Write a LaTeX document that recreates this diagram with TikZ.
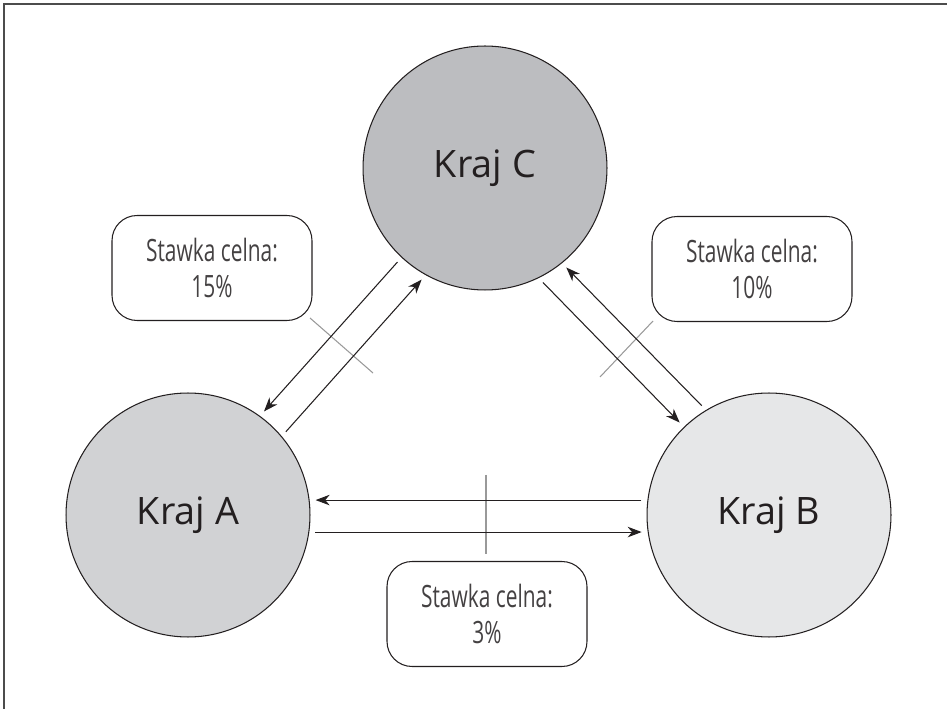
\documentclass[tikz,border=0pt]{standalone}
\usepackage{fontspec}
\setmainfont{Open Sans}
\newfontfamily\narrowfont[FakeStretch=0.68]{Open Sans}
\usetikzlibrary{arrows.meta,calc,positioning}
\definecolor{fillA}{HTML}{D1D2D4}
\definecolor{fillB}{HTML}{E6E7E8}
\definecolor{fillC}{HTML}{BCBDC0}
\definecolor{ink}{HTML}{231F20}
\begin{document}
\begin{tikzpicture}[x=0.02cm,y=-0.02cm,>={Stealth[length=8pt,width=6pt,inset=2.5pt]},
  country/.style={circle,draw=ink,line width=0.6pt,minimum size=4.88cm,inner sep=0pt,
    font=\fontsize{21.5}{24}\selectfont,text=ink},
  ratebox/.style={draw=ink,line width=0.6pt,rounded corners=0.5cm,minimum width=4cm,
    minimum height=2.1cm,align=center,font=\narrowfont\fontsize{17.5}{20}\selectfont,text=ink!85},
  trade/.style={->,line width=0.6pt,draw=ink,shorten <=0.12cm,shorten >=0.12cm},
  tick/.style={line width=0.6pt,draw=black!40}]
\useasboundingbox (0,0) rectangle (947,709);
% frame
\draw[line width=0.8pt,black!70] (4,709) -- (4,4) -- (947,4);
% countries
\node[country,fill=fillC] (C) at (485,168) {Kraj C};
\node[country,fill=fillA] (A) at (188,515) {Kraj A};
\node[country,fill=fillB] (B) at (769,515) {Kraj B};
% tariff rates
\node[ratebox] (rAC) at (212,268) {Stawka celna:\\15\%};
\node[ratebox] (rCB) at (752,269) {Stawka celna:\\10\%};
\node[ratebox] (rAB) at (487,614) {Stawka celna:\\3\%};
% borders
\draw[tick] (310,318) -- (373,373);
\draw[tick] (653,321) -- (600,377);
\draw[tick] (486,475) -- (486,554);
% trade flows
\draw[trade] (C.227) -- (A.54);
\draw[trade] (A.40) -- (C.241);
\draw[trade] (C.296) -- (B.134);
\draw[trade] (B.121) -- (C.309);
\draw[trade] (B.173) -- (A.7);
\draw[trade] (A.352) -- (B.188);
\end{tikzpicture}
\end{document}
